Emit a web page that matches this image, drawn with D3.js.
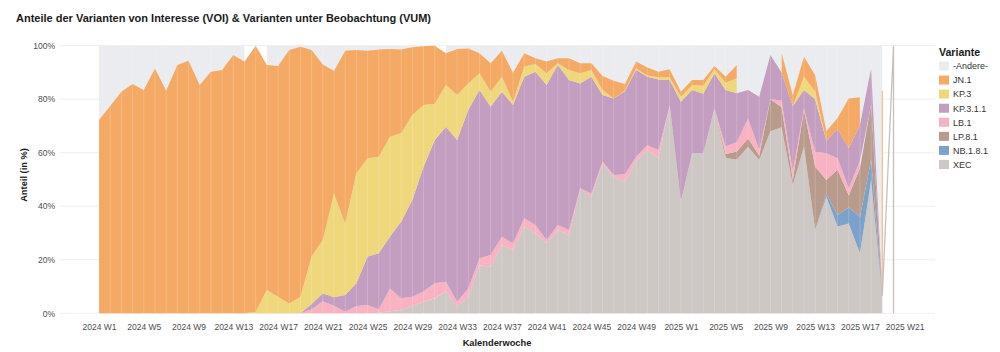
<!DOCTYPE html>
<html><head><meta charset="utf-8">
<script src="https://cdn.jsdelivr.net/npm/d3@7"></script>
<style>
body{margin:0;background:#fff;}
svg{display:block;font-family:"Liberation Sans",Arial,Helvetica,sans-serif;}
</style></head><body>
<svg id="chart" width="1000" height="352"></svg>
<script>
const _ = null;
const weeks = [
"2024 W1","2024 W2","2024 W3","2024 W4","2024 W5","2024 W6","2024 W7","2024 W8","2024 W9","2024 W10",
"2024 W11","2024 W12","2024 W13","2024 W14","2024 W15","2024 W16","2024 W17","2024 W18","2024 W19","2024 W20",
"2024 W21","2024 W22","2024 W23","2024 W24","2024 W25","2024 W26","2024 W27","2024 W28","2024 W29","2024 W30",
"2024 W31","2024 W32","2024 W33","2024 W34","2024 W35","2024 W36","2024 W37","2024 W38","2024 W39","2024 W40",
"2024 W41","2024 W42","2024 W43","2024 W44","2024 W45","2024 W46","2024 W47","2024 W48","2024 W49","2024 W50",
"2024 W51","2024 W52","2025 W1","2025 W2","2025 W3","2025 W4","2025 W5","2025 W6","2025 W7","2025 W8",
"2025 W9","2025 W10","2025 W11","2025 W12","2025 W13","2025 W14","2025 W15","2025 W16","2025 W17","2025 W18",
"2025 W19","2025 W20","2025 W21"];
const tickWeeks = ["2024 W1","2024 W5","2024 W9","2024 W13","2024 W17","2024 W21","2024 W25","2024 W29","2024 W33","2024 W37","2024 W41","2024 W45","2024 W49","2025 W1","2025 W5","2025 W9","2025 W13","2025 W17","2025 W21"];
const yTicks = [0,20,40,60,80,100];

// series values in % (one entry per week, 2024 W1 .. 2025 W20); null = no data
const XEC = [_,_,_,_,_,_,_,_,_,_, _,_,_,_,_,_,_,_,_,_, _,_,_,_,
  0,0.2,0.8,1.2,2.7,4.3,5.6,8.1,2.5,6.2,
  18.0,17.4,25.5,23.7,32.4,29.9,26.2,31.1,29.3,46.3,
  43.6,56.0,51.0,49.2,57.0,61.0,57.9,77.8,41.7,59.8,
  59.8,76.6,58.0,57.5,62.2,57.3,68.0,69.5,47.9,62.3,
  31.1,43.6,32.4,33.6,22.4,49.8,6.5,_];
const NB181 = [_,_,_,_,_,_,_,_,_,_, _,_,_,_,_,_,_,_,_,_, _,_,_,_,_,_,_,_,_,_, _,_,_,_,_,_,_,_,_,_,
  _,_,_,_,_,_,_,_,_,_, _,_,_,_,_,_,_,_,_,_, _,_,_,_,
  0,1.0,4.3,5.9,13.7,7.5,0.3,_];
const LP81 = [_,_,_,_,_,_,_,_,_,_, _,_,_,_,_,_,_,_,_,_, _,_,_,_,_,_,_,_,_,_, _,_,_,_,_,_,_,_,_,_,
  _,_,_,_,_,_,_,_,_,_, _,_,_,_,_,
  0,1.5,3.0,3.1,1.7,12.0,7.5,2.1,13.7,
  23.7,5.2,16.9,4.5,18.1,20.7,0.2,_];
const LB1 = [_,_,_,_,_,_,_,_,_,_, _,_,_,_,_,_,_,_,
  0,1.5,4.5,2.8,0.6,2.7,3.1,1.3,8.5,4.4,3.5,
  3.8,5.6,3.7,1.8,3.1,2.6,4.4,3.1,2.5,3.1,
  3.1,1.2,1.9,1.8,0.4,1.2,0.7,0.7,2.8,1.5,
  1.9,3.1,0,0,0,0,0,2.8,3.5,7.5,
  2.0,0,2.5,3.0,0.5,5.6,10.0,4.3,2.7,2.8,
  _,_,_];
const KP311 = [_,_,_,_,_,_,_,_,_,_, _,_,_,_,_,_,_,_,
  0,2.0,3.0,3.2,6.2,8.5,18.1,20.9,19.3,28.6,36.1,
  46.7,53.6,57.9,60.5,66.7,62.8,55.4,54.2,51.6,52.9,
  57.3,57.9,59.8,56.1,39.2,43.6,24.9,28.6,31.0,32.5,
  25.5,26.4,9.4,37.4,23.6,22.2,13.1,21.1,18.2,10.6,
  19.9,16.5,10.5,24.5,6.9,19.6,4.7,11.1,15.0,13.4,
  13.5,0.2,_];
const KP3 = [_,_,_,_,_,_,_,_,_,_, _,_,_,0,
  0.5,8.7,6.2,3.7,6.2,17.7,19.9,38.8,26.8,41.1,
  36.7,36.1,37.4,33.1,31.8,23.0,13.4,15.6,16.8,9.9,
  6.3,5.6,5.6,1.3,3.8,2.9,4.4,0.6,3.7,3.8,
  2.5,1.8,0,0.3,0.5,0.5,0.8,1.0,1.8,1.9,
  3.0,1.5,2.8,5.6,_,_,_,_,0,5.0,
  3.0,0,_,_,_,_,_,_];
const JN1 = [72.2,77.5,82.8,85.7,83.4,91.5,83.2,92.8,94.4,85.3,
  90.3,90.9,96.5,94.0,99.5,84.1,86.2,94.7,93.4,77.2,
  65.6,45.7,64.5,46.1,40.2,40.1,32.8,31.3,25.3,22.0,
  21.8,11.9,17.2,13.1,7.5,10.6,9.7,10.8,5.0,2.1,
  4.4,1.9,4.4,3.7,2.5,5.3,6.6,2.4,2.6,3.0,
  2.1,3.0,1.9,1.9,2.2,1.2,2.2,5.0,_,_,
  _,7.4,4.0,7.5,6.0,3.5,4.0,18.6,10.3,_,
  76.0,_];
const ANDERE = [27.8,22.5,17.2,14.3,16.6,8.5,16.8,7.2,5.6,14.7,
  9.7,9.1,3.5,6.0,_,7.2,7.6,1.6,0.4,1.6,
  7.0,9.5,1.9,1.6,1.9,1.4,1.2,1.4,0.6,0.2,
  _,2.8,1.2,1.0,2.8,6.6,1.9,10.1,2.8,4.7,
  5.9,4.7,4.7,6.6,6.6,11.3,13.1,14.3,5.9,8.1,
  9.7,8.8,17.2,12.8,12.8,7.6,11.6,7.2,16.6,19.1,
  3.5,2.6,18.5,4.1,11.0,32.0,27.0,19.7,19.3,8.5,
  16.8,_];
// last reported week: thin spike
const spikeWeeks = ["2025 W19","2025 W20","2025 W20"];
const spikeValues = [6.5,100,0];

const legendKeys = ["-Andere-","JN.1","KP.3","KP.3.1.1","LB.1","LP.8.1","NB.1.8.1","XEC"];
const stackKeys = ["XEC","NB.1.8.1","LP.8.1","LB.1","KP.3.1.1","KP.3","JN.1","-Andere-"];
const seriesByKey = {"XEC":XEC,"NB.1.8.1":NB181,"LP.8.1":LP81,"LB.1":LB1,"KP.3.1.1":KP311,"KP.3":KP3,"JN.1":JN1,"-Andere-":ANDERE};
const colors = {"-Andere-":"#EBECEF","JN.1":"#F4AA65","KP.3":"#EFD77C","KP.3.1.1":"#C49EC0","LB.1":"#F9B2C1","LP.8.1":"#B99B8C","NB.1.8.1":"#7CA2CC","XEC":"#CEC8C5"};

const svg = d3.select("#chart");
const x = d3.scalePoint().domain(weeks).range([99, 904.7]);
const y = d3.scaleLinear().domain([0,100]).range([313.3, 45.7]);

// grid
svg.append("g").selectAll("line").data(yTicks).join("line")
  .attr("x1",60).attr("x2",935)
  .attr("y1",d=>y(d)).attr("y2",d=>y(d))
  .attr("stroke","#EEEEEE").attr("stroke-width",1);

const dataWeeks = weeks.slice(0, XEC.length);
const rows = dataWeeks.map((w,i)=>{const r={week:w}; stackKeys.forEach(k=>r[k]=seriesByKey[k][i]); return r;});
const layers = d3.stack().keys(stackKeys).value((d,k)=>d[k]==null?0:d[k])(rows);

const gA = svg.append("g");
// "-Andere-" is drawn first, reaching down to the axis, so that gaps of other series show it
const drawOrder = [layers[layers.length-1]].concat(layers.slice(0,-1));
drawOrder.forEach(layer=>{
  const isRest = layer.key === "-Andere-";
  const def = d=>d.data[layer.key]!=null;
  const area = d3.area()
    .defined(def)
    .x(d=>x(d.data.week))
    .y0(d=>isRest ? y(0) : y(d[0]))
    .y1(d=>y(d[1]));
  gA.append("path").attr("d",area(layer)).attr("fill",colors[layer.key]);
  // isolated weeks (no neighbours) show as a thin vertical stroke
  if (!isRest) {
    const iso = layer.filter((d,i)=>def(d) && (i===0||!def(layer[i-1])) && (i===layer.length-1||!def(layer[i+1])));
    gA.selectAll(null).data(iso).join("line")
      .attr("x1",d=>x(d.data.week)).attr("x2",d=>x(d.data.week))
      .attr("y1",d=>y(d[0])).attr("y2",d=>y(d[1]))
      .attr("stroke",colors[layer.key]).attr("stroke-width",1);
  }
});

// faint seams at each week
svg.append("g").selectAll("line").data(dataWeeks.filter((w,i)=>ANDERE[i]!=null||JN1[i]!=null)).join("line")
  .attr("x1",d=>x(d)).attr("x2",d=>x(d))
  .attr("y1",y(0)).attr("y2",y(100))
  .attr("stroke","#fff").attr("stroke-opacity",0.18).attr("stroke-width",1);

// spike
svg.append("path")
  .attr("d", d3.line().x((d,i)=>x(spikeWeeks[i])).y(d=>y(d))(spikeValues))
  .attr("fill","none").attr("stroke","#C8BFBA").attr("stroke-width",1.3);

// axes
const xAxis = svg.append("g").attr("transform",`translate(0,${y(0)})`)
  .call(d3.axisBottom(x).tickValues(tickWeeks).tickSize(0).tickPadding(11));
xAxis.select(".domain").remove();
xAxis.selectAll("text").attr("font-size","8.5px").attr("fill","#4D4D4D").attr("font-family",null);

const yAxis = svg.append("g").attr("transform","translate(60,0)")
  .call(d3.axisLeft(y).tickValues(yTicks).tickFormat(d=>d+"%").tickSize(0).tickPadding(5));
yAxis.select(".domain").remove();
yAxis.selectAll("text").attr("font-size","8.5px").attr("fill","#4D4D4D").attr("font-family",null);

// titles
svg.append("text").attr("x",16).attr("y",22).attr("font-size","11px").attr("font-weight","bold").attr("fill","#1A1A1A")
  .text("Anteile der Varianten von Interesse (VOI) & Varianten unter Beobachtung (VUM)");
svg.append("text").attr("x",497).attr("y",346).attr("text-anchor","middle").attr("font-size","9.3px").attr("font-weight","bold").attr("fill","#1A1A1A")
  .text("Kalenderwoche");
svg.append("text").attr("transform","translate(27,175) rotate(-90)").attr("text-anchor","middle").attr("font-size","9.3px").attr("font-weight","bold").attr("fill","#1A1A1A")
  .text("Anteil (in %)");

// legend
const lg = svg.append("g").attr("transform","translate(939,0)");
lg.append("text").attr("x",0).attr("y",56).attr("font-size","10.6px").attr("font-weight","bold").attr("fill","#1A1A1A").text("Variante");
const items = lg.selectAll("g.item").data(legendKeys).join("g").attr("class","item")
  .attr("transform",(d,i)=>`translate(0,${66+i*14.07})`);
items.append("rect").attr("x",0).attr("y",-4.5).attr("width",10).attr("height",9).attr("fill",d=>colors[d]);
items.append("text").attr("x",14).attr("y",3.3).attr("font-size","9px").attr("fill","#333").text(d=>d);
</script>
</body></html>
